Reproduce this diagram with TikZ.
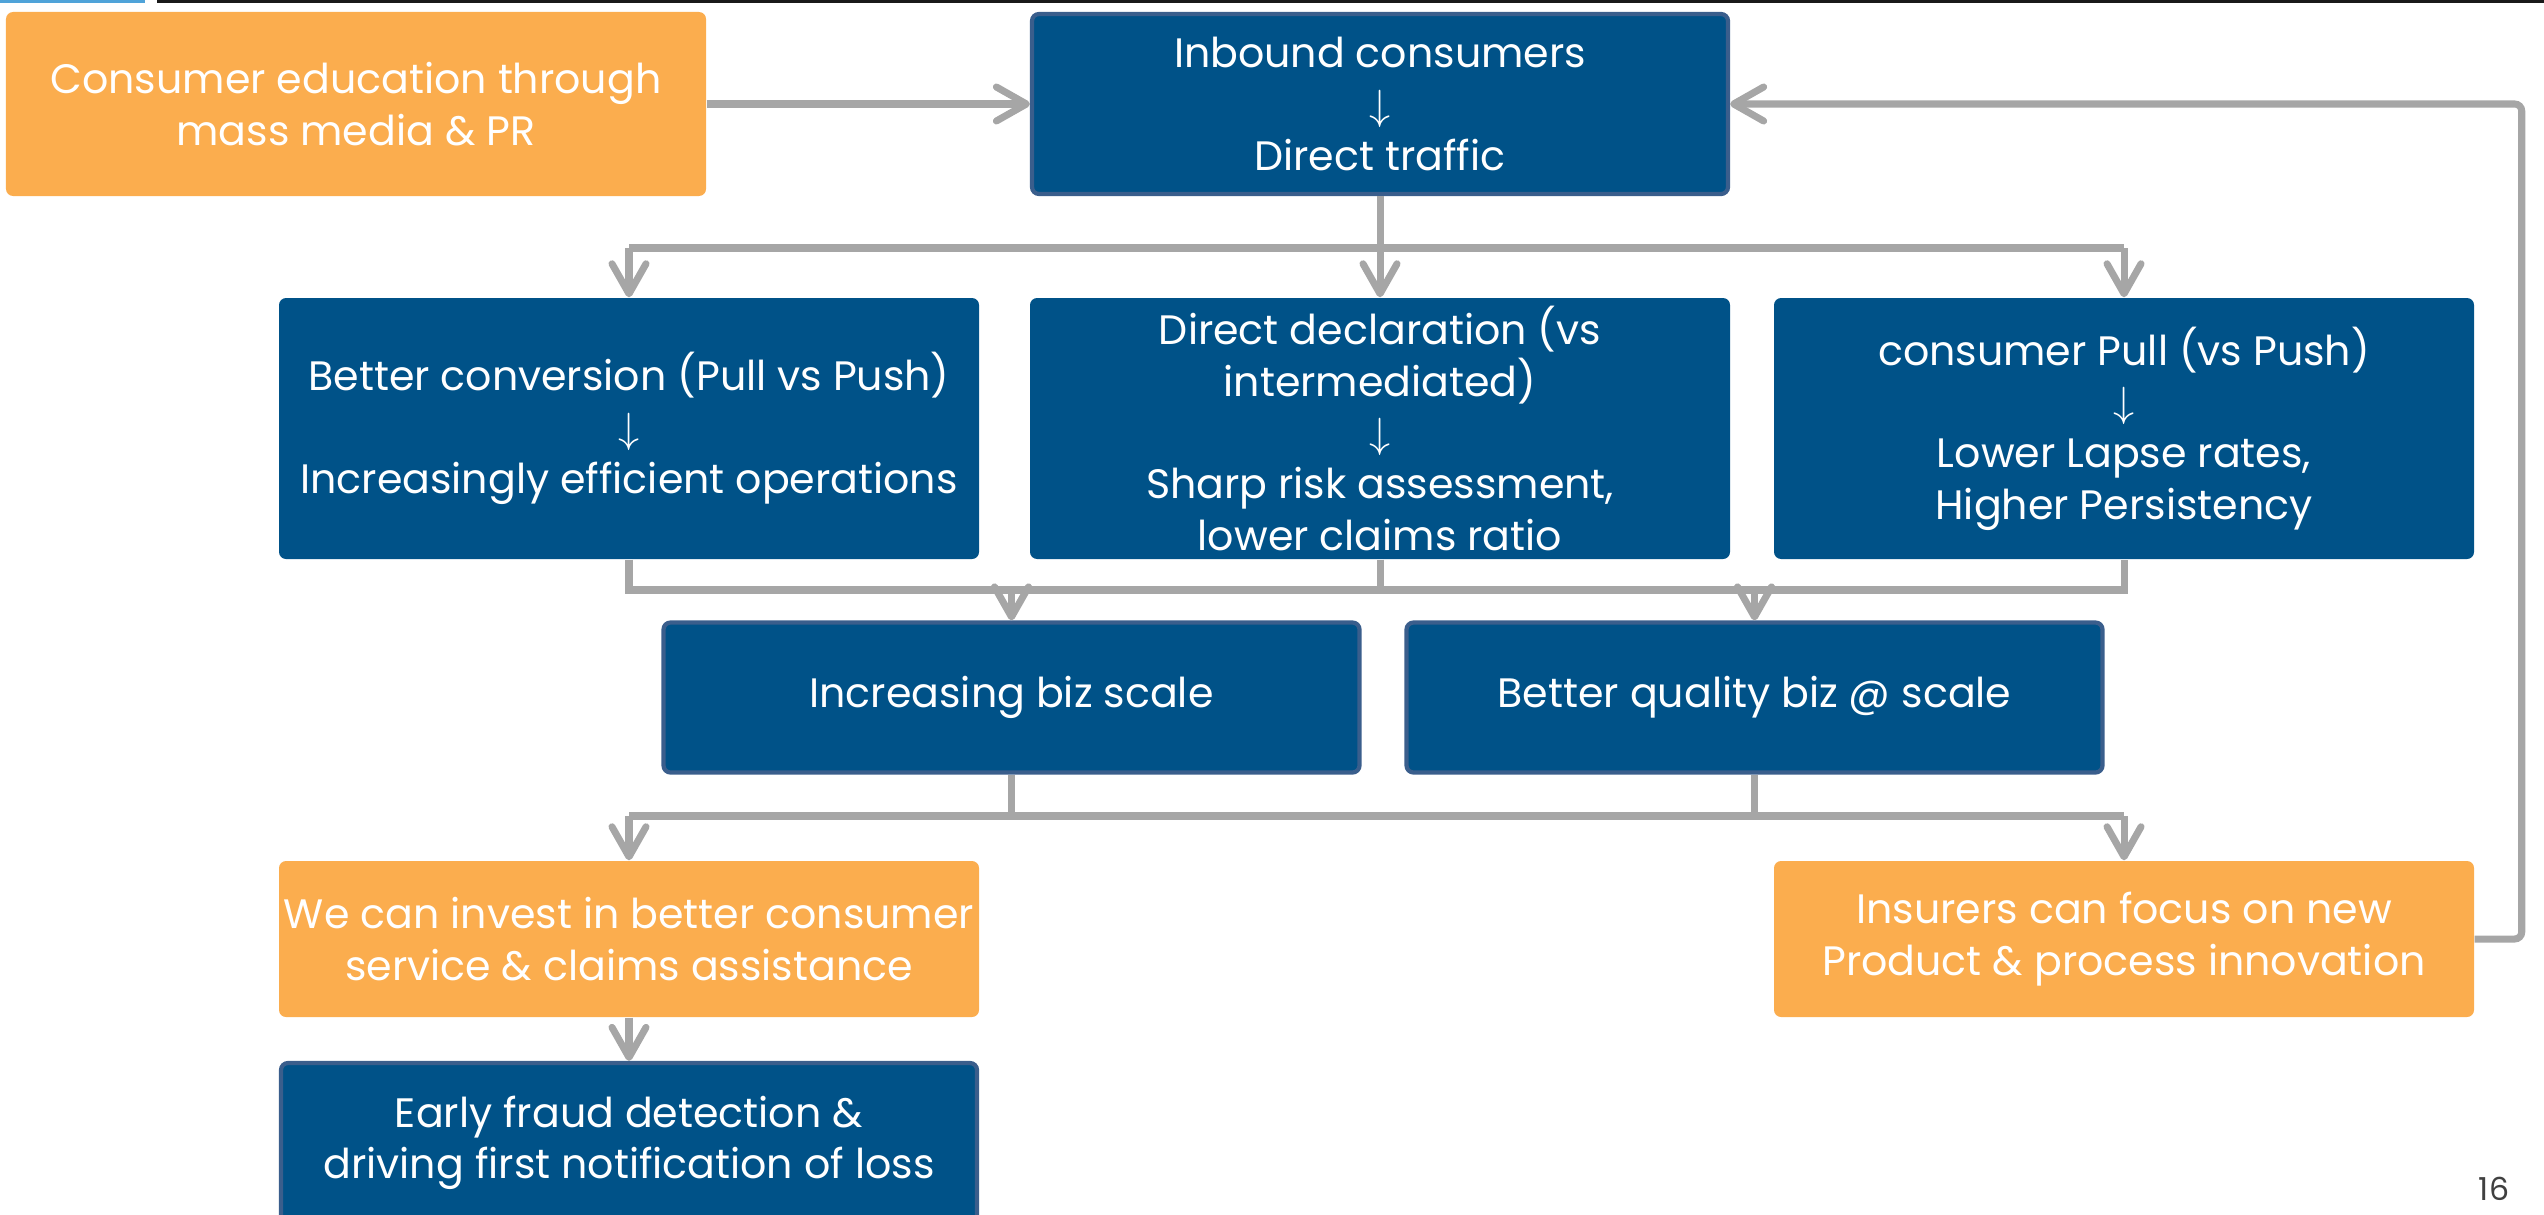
\documentclass[tikz,border=0pt]{standalone}
\usepackage{fontspec}
\setmainfont{Poppins}
\usetikzlibrary{arrows.meta}
\definecolor{boxblue}{RGB}{0,82,136}
\definecolor{edgeblue}{RGB}{58,94,140}
\definecolor{boxorange}{RGB}{251,173,78}
\definecolor{linkgray}{RGB}{166,166,166}
\tikzset{
  bluebox/.style={fill=boxblue, text=white, rounded corners=2pt, align=center, inner sep=0pt, font=\fontsize{11.7}{14.6}\selectfont},
  edgebox/.style={bluebox, draw=edgeblue, line width=1.2pt},
  orangebox/.style={bluebox, fill=boxorange},
  link/.style={draw=linkgray, line width=2pt},
  arr/.style={link, -{Straight Barb[length=0.3cm, width=0.34cm, round]}}
}
\newcommand{\dn}{$\downarrow$}

\begin{document}
\begin{tikzpicture}
		%%%%% START %%%%%
		\useasboundingbox (0, 0) rectangle (25.44, 12.14);
		\clip (0, 0) rectangle (25.44, 12.14);

		\fill[color={rgb,255:red,79;green,163;blue,217}] (0, 12.14) rectangle (1.45, 12.11);
		\fill[black!90] (1.57, 12.14) rectangle (25.44, 12.11);

		\node[orangebox, minimum width=7cm, minimum height=1.84cm] (edu) at (3.56, 11.10) {Consumer education through\\mass media \& PR};
		\node[edgebox, minimum width=6.96cm, minimum height=1.8cm] (inbound) at (13.80, 11.10) {Inbound consumers\\\dn\\Direct traffic};

		\node[bluebox, minimum width=7cm, minimum height=2.61cm] (conv) at (6.29, 7.855) {Better conversion (Pull vs Push)\\\dn\\Increasingly efficient operations};
		\node[bluebox, minimum width=7cm, minimum height=2.61cm] (decl) at (13.80, 7.855) {Direct declaration (vs\\intermediated)\\\dn\\Sharp risk assessment,\\lower claims ratio};
		\node[bluebox, minimum width=7cm, minimum height=2.61cm] (pull) at (21.24, 7.855) {consumer Pull (vs Push)\\\dn\\Lower Lapse rates,\\Higher Persistency};

		\node[edgebox, minimum width=6.96cm, minimum height=1.5cm] (scale) at (10.115, 5.165) {Increasing biz scale};
		\node[edgebox, minimum width=6.96cm, minimum height=1.5cm] (quality) at (17.545, 5.165) {Better quality biz @ scale};

		\node[orangebox, minimum width=7cm, minimum height=1.56cm] (invest) at (6.29, 2.75) {We can invest in better consumer\\service \& claims assistance};
		\node[orangebox, minimum width=7cm, minimum height=1.56cm] (insurers) at (21.24, 2.75) {Insurers can focus on new\\Product \& process innovation};

		\node[edgebox, minimum width=6.96cm, minimum height=1.6cm] (fraud) at (6.29, 0.71) {Early fraud detection \&\\driving first notification of loss};

		\node[text=black!75, font=\fontsize{9}{11}\selectfont] (page) at (24.94, 0.25) {16};

		% links
		\draw[arr] (edu.east) -- (inbound.west);
		\coordinate (split) at (13.80, 9.66);
		\draw[link] (inbound.south) -- (split);
		\draw[link] (conv.north |- split) -- (pull.north |- split);
		\draw[arr] (split) -- (decl.north);
		\draw[arr] (conv.north |- split) -- (conv.north);
		\draw[arr] (pull.north |- split) -- (pull.north);

		\coordinate (merge) at (13.80, 6.24);
		\draw[link] (conv.south) -- (conv.south |- merge) -- (pull.south |- merge) -- (pull.south);
		\draw[link] (decl.south) -- (merge);
		\draw[arr] (scale.north |- merge) -- (scale.north);
		\draw[arr] (quality.north |- merge) -- (quality.north);

		\coordinate (spread) at (13.80, 3.98);
		\draw[link] (scale.south) -- (scale.south |- spread);
		\draw[link] (quality.south) -- (quality.south |- spread);
		\draw[link] (invest.north |- spread) -- (insurers.north |- spread);
		\draw[arr] (invest.north |- spread) -- (invest.north);
		\draw[arr] (insurers.north |- spread) -- (insurers.north);

		\draw[arr] (invest.south) -- (fraud.north);
		\draw[arr, rounded corners=2pt] (insurers.east) -- ++(0.47, 0) |- (inbound.east);
		%%%%% END %%%%%
\end{tikzpicture}
\end{document}
